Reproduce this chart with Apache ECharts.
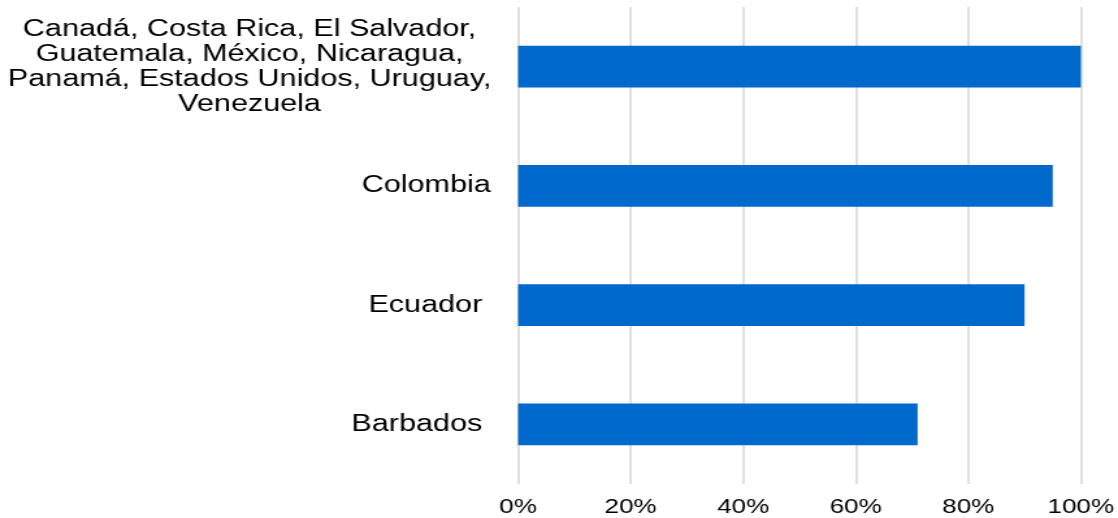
<!DOCTYPE html>
<html>
<head>
<meta charset="utf-8">
<script src="https://cdn.jsdelivr.net/npm/echarts@6/dist/echarts.min.js"></script>
<style>
  html, body { margin: 0; padding: 0; background: #fff; overflow: hidden; }
  #wrap { width: 1118px; height: 518px; overflow: hidden; }
  #c { width: 860px; height: 518px; transform: scaleX(1.3); transform-origin: 0 0; }
</style>
</head>
<body>
<div id="wrap"><div id="c"></div></div>
<script>
const categories = [
  'Barbados ',
  'Ecuador ',
  'Colombia',
  'Canadá, Costa Rica, El Salvador,\nGuatemala, México, Nicaragua,\nPanamá, Estados Unidos, Uruguay,\nVenezuela'
];
const values = [71, 90, 95, 100];
const xTicks = { min: 0, max: 100, interval: 20 };

const FONT = "'Liberation Sans', Arial, sans-serif";
const chart = echarts.init(document.getElementById('c'), null, { renderer: 'canvas' });
chart.setOption({
  animation: false,
  backgroundColor: '#ffffff',
  grid: { left: 398.5, right: 26, top: 7, bottom: 34, containLabel: false },
  xAxis: {
    type: 'value',
    min: xTicks.min, max: xTicks.max, interval: xTicks.interval,
    axisLine: { show: false },
    axisTick: { show: false },
    splitLine: { show: true, lineStyle: { color: '#d9d9d9', width: 1.6 } },
    axisLabel: { formatter: '{value}%', fontSize: 20, color: '#000', fontFamily: FONT, margin: 13 }
  },
  yAxis: {
    type: 'category',
    data: categories,
    axisLine: { show: false },
    axisTick: { show: false },
    splitLine: { show: false },
    axisLabel: {
      fontSize: 23.5, lineHeight: 25, color: '#000', fontFamily: FONT, margin: 21,
      formatter: function (v) {
        if (v.indexOf('\n') < 0) return v;
        return v.split('\n').map(function (l) { return '{m|' + l + '}'; }).join('\n');
      },
      rich: {
        m: { width: 371, align: 'center', fontSize: 23.5, lineHeight: 25, color: '#000', fontFamily: FONT }
      }
    }
  },
  series: [{
    type: 'bar',
    data: values,
    barWidth: '35%',
    itemStyle: { color: '#0069CC' }
  }]
});
</script>
</body>
</html>
